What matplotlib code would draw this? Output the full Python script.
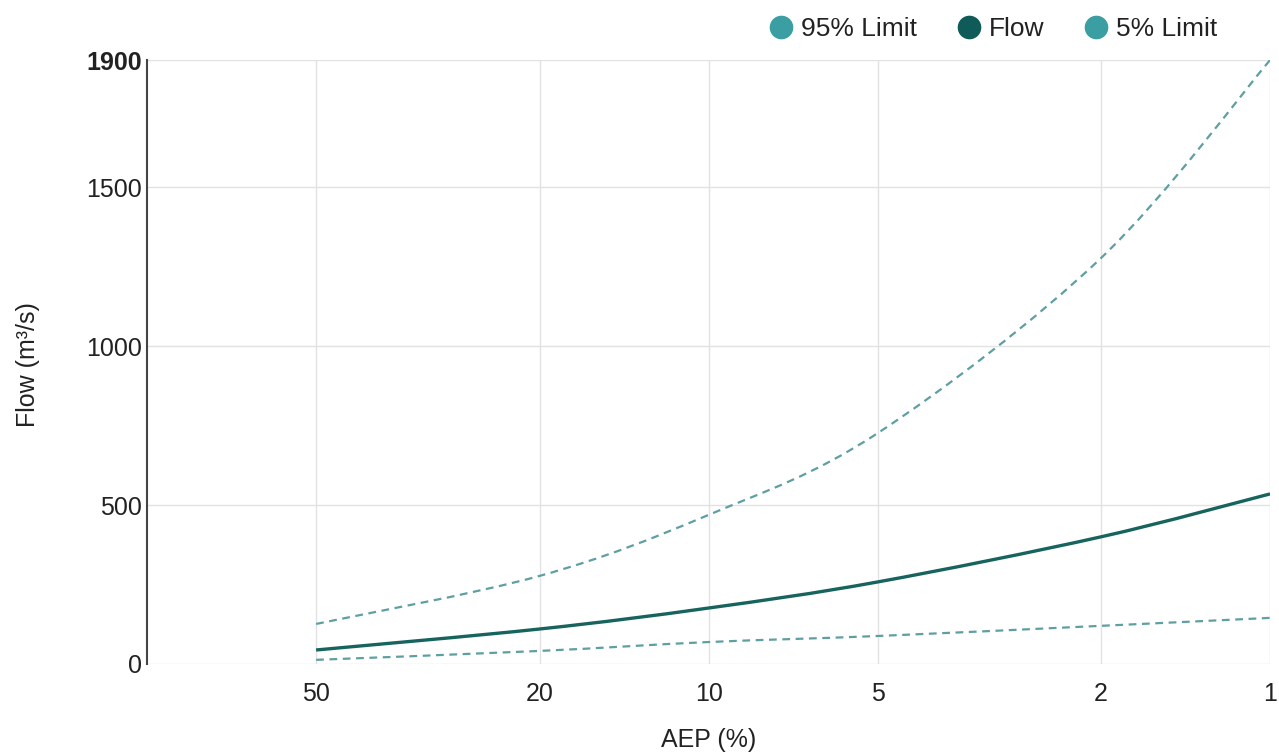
import numpy as np
import matplotlib.pyplot as plt
from matplotlib.lines import Line2D
from matplotlib.path import Path
from matplotlib.patches import PathPatch

plt.rcParams['font.family'] = ['Liberation Sans', 'DejaVu Sans']

# AEP (%) and flow values
aep = [50, 20, 10, 5, 2, 1]
flow = [44, 110, 176, 258, 400, 535]
limit_95 = [126, 277, 469, 726, 1277, 1900]
limit_5 = [13, 41, 69, 88, 120, 145]

x_ticks = [50, 20, 10, 5, 2, 1]
y_ticks = [0, 500, 1000, 1500, 1900]


def smooth_path(xs, ys):
    # Catmull-Rom style bezier through the points, built in log-x space
    lx = np.log10(xs)
    ys = np.asarray(ys, dtype=float)
    n = len(lx)
    verts = [(xs[0], ys[0])]
    codes = [Path.MOVETO]
    for i in range(n - 1):
        i0 = max(i - 1, 0)
        i3 = min(i + 2, n - 1)
        c1x = lx[i] + (lx[i + 1] - lx[i0]) / 6
        c1y = ys[i] + (ys[i + 1] - ys[i0]) / 6
        c2x = lx[i + 1] - (lx[i3] - lx[i]) / 6
        c2y = ys[i + 1] - (ys[i3] - ys[i]) / 6
        verts += [(10 ** c1x, c1y), (10 ** c2x, c2y), (xs[i + 1], ys[i + 1])]
        codes += [Path.CURVE4] * 3
    return Path(verts, codes)


fig = plt.figure(figsize=(12.79, 7.54), dpi=100)
ax = fig.add_axes([0.115, 0.1194, 0.878, 0.801])
ax.set_xscale('log')

ax.add_patch(PathPatch(smooth_path(aep, limit_95), fill=False, ec='#5e9fa2',
                       lw=1.6, ls=(0, (3.5, 2.5))))
ax.add_patch(PathPatch(smooth_path(aep, flow), fill=False, ec='#17645f', lw=2.4))
ax.add_patch(PathPatch(smooth_path(aep, limit_5), fill=False, ec='#5e9fa2',
                       lw=1.6, ls=(0, (3.5, 2.5))))

ax.set_xlim(100, 1)
ax.set_ylim(0, 1900)
ax.set_xticks(x_ticks)
ax.set_xticklabels([str(v) for v in x_ticks])
ax.minorticks_off()
ax.set_yticks(y_ticks)
ax.set_yticklabels([str(v) for v in y_ticks])
ax.get_yticklabels()[-1].set_fontweight('bold')

ax.grid(True, color='#e2e2e2', lw=1)
ax.set_axisbelow(True)
for s in ['top', 'right', 'bottom']:
    ax.spines[s].set_visible(False)
ax.spines['left'].set_color('#444444')
ax.spines['left'].set_linewidth(1.5)
ax.tick_params(length=0, labelsize=18, colors='#222222')
ax.tick_params(axis='y', pad=4)
ax.tick_params(axis='x', pad=13)

ax.set_xlabel('AEP (%)', fontsize=18, color='#222222', labelpad=16)
fig.text(28 / 1279, 1 - 365 / 754, 'Flow (m³/s)', rotation=90, fontsize=18,
         color='#222222', ha='center', va='center')

handles = [Line2D([], [], marker='o', ls='none', markersize=16, color='#3a9ea2'),
           Line2D([], [], marker='o', ls='none', markersize=16, color='#0e5b5a'),
           Line2D([], [], marker='o', ls='none', markersize=16, color='#3a9ea2')]
fig.legend(handles, ['95% Limit', 'Flow', '5% Limit'], loc='upper right',
           bbox_to_anchor=(0.9706, 1.009), ncol=3, frameon=False, fontsize=19,
           handletextpad=-0.23, columnspacing=0.95, labelcolor='#222222')

fig.savefig('out.png', dpi=100)
